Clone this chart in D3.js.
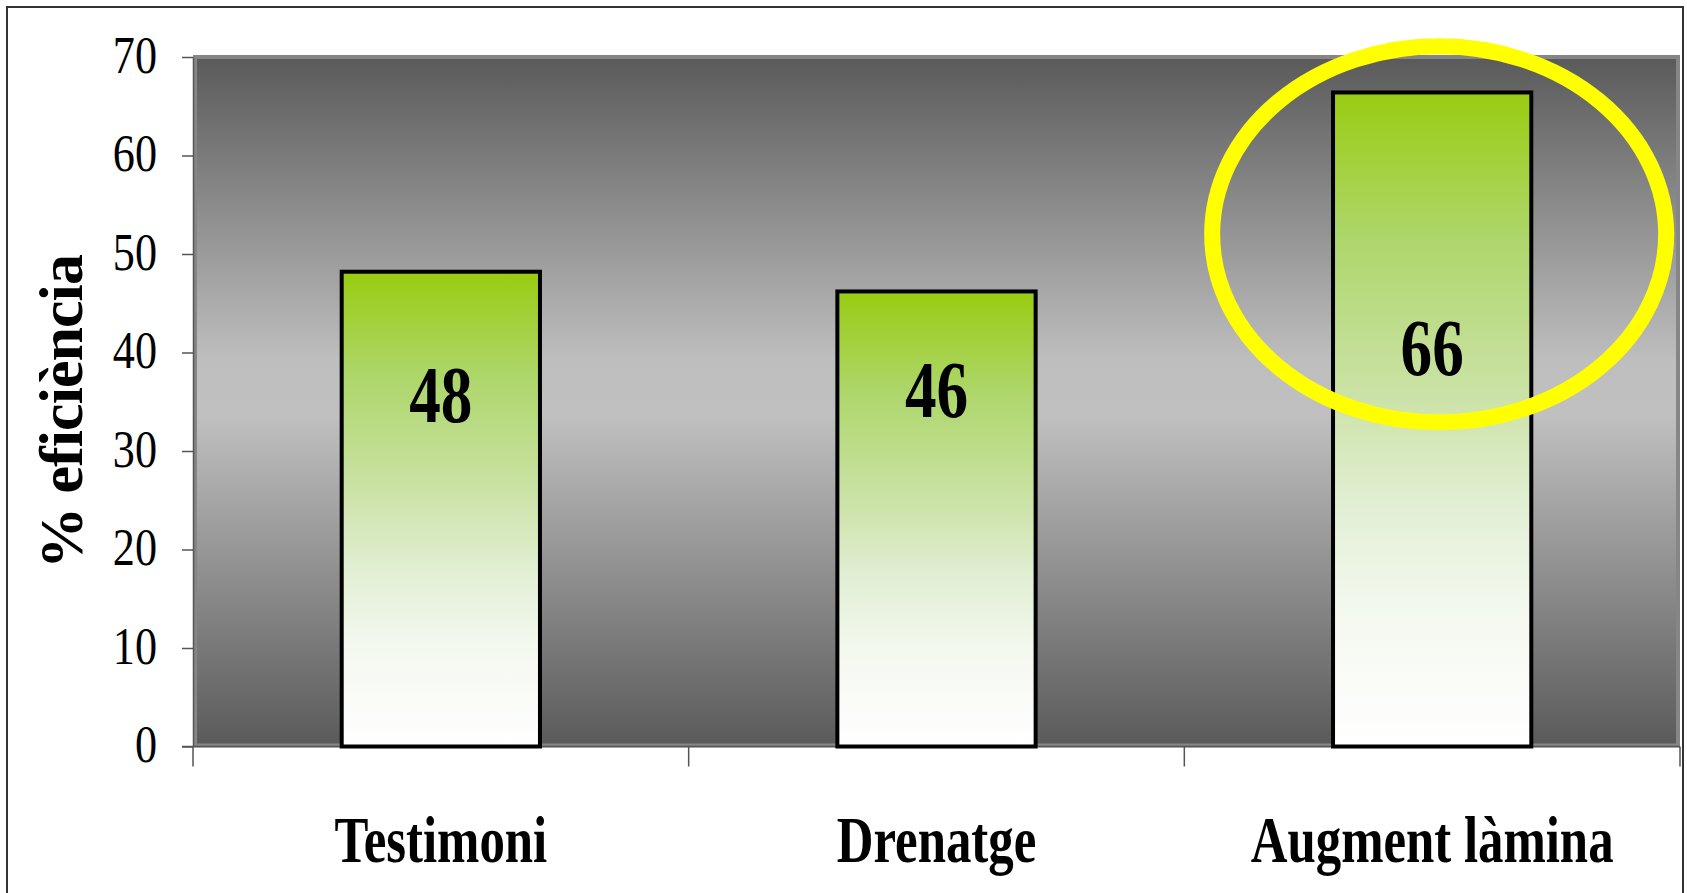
<!DOCTYPE html>
<html>
<head>
<meta charset="utf-8">
<script src="https://cdn.jsdelivr.net/npm/d3@7"></script>
<style>
  html, body { margin: 0; padding: 0; background: #ffffff; }
  svg { display: block; }
  text { font-family: "Liberation Serif", "Times New Roman", serif; fill: #000; }
</style>
</head>
<body>
<svg id="chart" width="1687" height="893"></svg>
<script>
// ---- data ----
const categories = ["Testimoni", "Drenatge", "Augment làmina"];
const values = [48.2, 46.2, 66.4];
const valueLabels = ["48", "46", "66"];
const labelAt = [35.7, 36.2, 40.5];        // value (in axis units) where each bar label sits
const yTicks = [0, 10, 20, 30, 40, 50, 60, 70];
const yTitle = "% eficiència";
const highlight = "Augment làmina";

// ---- layout ----
const W = 1687, H = 893;
const plot = { left: 193, right: 1680, top: 56, bottom: 746.5 };
const svg = d3.select("#chart");
const defs = svg.append("defs");

const x = d3.scaleBand().domain(categories)
  .range([plot.left, plot.right]).paddingInner(0.6).paddingOuter(0.3);
const y = d3.scaleLinear().domain([0, 70]).range([plot.bottom, plot.top + 1]);

// gradients
const bg = defs.append("linearGradient").attr("id", "bg")
  .attr("x1", 0).attr("y1", 0).attr("x2", 0).attr("y2", 1);
[[0, "#5a5a5a"], [0.44, "#bebebe"], [0.52, "#c0c0c0"], [1, "#5a5a5a"]]
  .forEach(([o, c]) => bg.append("stop").attr("offset", o).attr("stop-color", c));

const bar = defs.append("linearGradient").attr("id", "barg")
  .attr("x1", 0).attr("y1", 0).attr("x2", 0).attr("y2", 1);
[[0, "#99cc11"], [0.22, "#add66a"], [0.47, "#cce3a8"], [0.62, "#e0eed2"], [0.78, "#f3f8ee"], [1, "#ffffff"]]
  .forEach(([o, c]) => bar.append("stop").attr("offset", o).attr("stop-color", c));

// outer chart border (left, top, right edges; bottom runs past the frame)
svg.append("path")
  .attr("d", d3.line()([[7, H], [7, 7], [1683, 7], [1683, H]]))
  .attr("fill", "none").attr("stroke", "#333").attr("stroke-width", 2);

// plot area
svg.append("rect")
  .attr("x", plot.left + 2).attr("y", plot.top + 1)
  .attr("width", plot.right - plot.left - 4).attr("height", plot.bottom - plot.top - 2)
  .attr("fill", "url(#bg)").attr("stroke", "#868686").attr("stroke-width", 4);

// y axis
const yAxis = svg.append("g").attr("transform", `translate(${plot.left},0)`)
  .call(d3.axisLeft(y).tickValues(yTicks).tickSizeInner(11).tickSizeOuter(0).tickPadding(25));
yAxis.select(".domain").attr("stroke", "#555").attr("stroke-width", 1.5);
yAxis.selectAll(".tick line").attr("stroke", "#555").attr("stroke-width", 1.5);
yAxis.selectAll(".tick text")
  .attr("font-family", "Liberation Serif").attr("font-size", 52)
  .attr("x", 0).attr("transform", "translate(-36,0) scale(0.85,1)")
  .attr("dy", "0.29em").attr("fill", "#000");

// x axis
const xAxisG = svg.append("g");
xAxisG.append("line").attr("x1", plot.left - 11).attr("x2", plot.right)
  .attr("y1", plot.bottom).attr("y2", plot.bottom).attr("stroke", "#555").attr("stroke-width", 1.5);
const edges = [plot.left]
  .concat(categories.slice(1).map(c => x(c) - (x.step() - x.bandwidth()) / 2))
  .concat([plot.right]);
xAxisG.selectAll("line.tk").data(edges).join("line").attr("class", "tk")
  .attr("x1", d => d).attr("x2", d => d)
  .attr("y1", plot.bottom).attr("y2", plot.bottom + 20)
  .attr("stroke", "#555").attr("stroke-width", 1.5);

xAxisG.selectAll("text.cat").data(categories).join("text").attr("class", "cat")
  .attr("transform", d => `translate(${x(d) + x.bandwidth() / 2},862) scale(0.77,1)`)
  .attr("text-anchor", "middle").attr("font-weight", "bold").attr("font-size", 66)
  .text(d => d);

// bars
svg.selectAll("rect.bar").data(categories).join("rect").attr("class", "bar")
  .attr("x", d => x(d)).attr("width", x.bandwidth())
  .attr("y", (d, i) => y(values[i])).attr("height", (d, i) => y(0) - y(values[i]))
  .attr("fill", "url(#barg)").attr("stroke", "#000").attr("stroke-width", 4);

// value labels
svg.selectAll("text.val").data(categories).join("text").attr("class", "val")
  .attr("transform", (d, i) => `translate(${x(d) + x.bandwidth() / 2},${y(labelAt[i])}) scale(0.78,1)`)
  .attr("dy", "0.34em")
  .attr("text-anchor", "middle").attr("font-weight", "bold").attr("font-size", 81)
  .text((d, i) => valueLabels[i]);

// y title
svg.append("text").attr("class", "ytitle")
  .attr("transform", `translate(82,${y(34)}) rotate(-90)`)
  .attr("text-anchor", "middle").attr("font-weight", "bold").attr("font-size", 62)
  .attr("textLength", 315).attr("lengthAdjust", "spacing")
  .text(yTitle);

// highlight ellipse
svg.append("ellipse")
  .attr("cx", x(highlight) + x.bandwidth() / 2 + 7)
  .attr("cy", y(52))
  .attr("rx", 227).attr("ry", 188)
  .attr("fill", "none").attr("stroke", "#ffff00").attr("stroke-width", 16);
</script>
</body>
</html>
